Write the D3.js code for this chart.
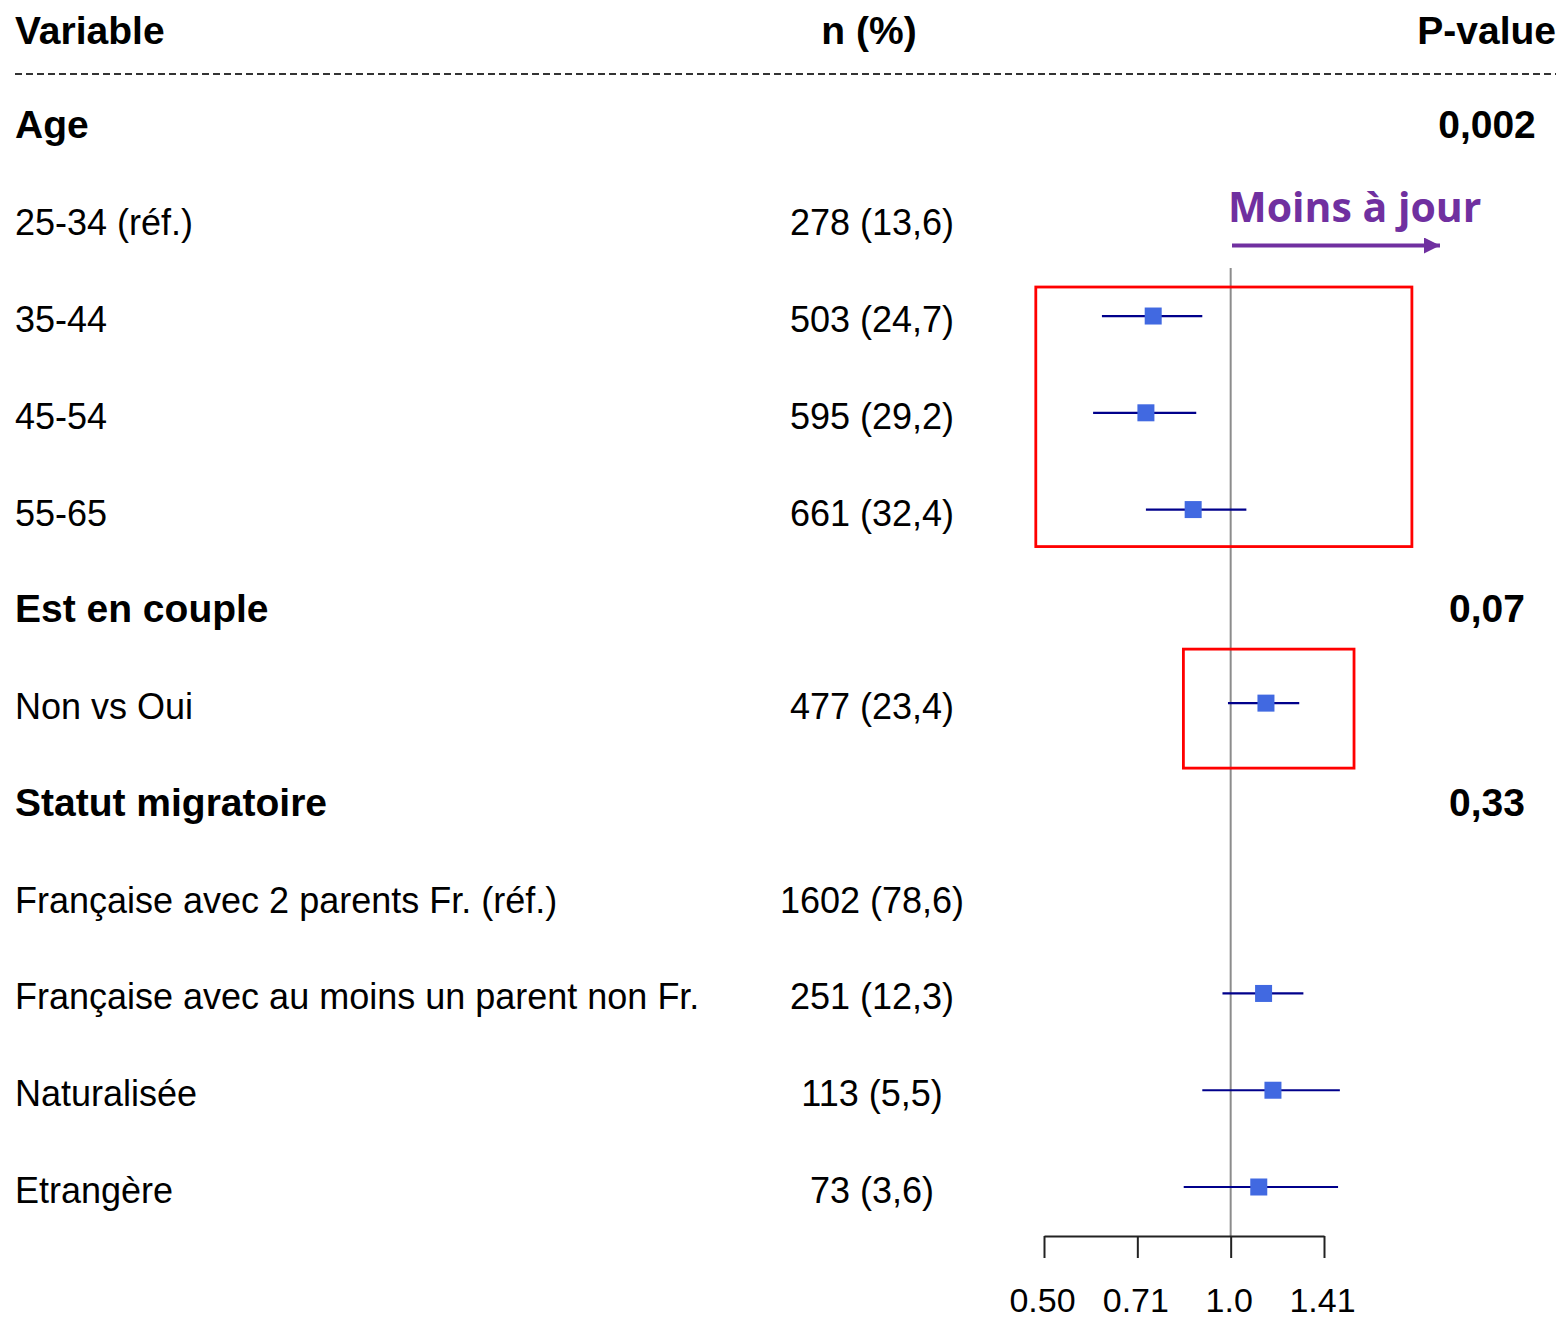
<!DOCTYPE html>
<html>
<head>
<meta charset="utf-8">
<script src="https://cdn.jsdelivr.net/npm/d3@7"></script>
<style>
  html, body { margin: 0; padding: 0; background: #fff; }
  svg { display: block; }
</style>
</head>
<body>
<script>
// ---- Data ----
const rowLabels = ["Age", "25-34 (réf.)", "35-44", "45-54", "55-65",
  "Est en couple", "Non vs Oui", "Statut migratoire",
  "Française avec 2 parents Fr. (réf.)", "Française avec au moins un parent non Fr.",
  "Naturalisée", "Etrangère"];
const rowIsGroup = [true, false, false, false, false, true, false, true, false, false, false, false];
const nPct = ["", "278 (13,6)", "503 (24,7)", "595 (29,2)", "661 (32,4)",
  "", "477 (23,4)", "", "1602 (78,6)", "251 (12,3)", "113 (5,5)", "73 (3,6)"];
const pValues = ["0,002", "", "", "", "", "0,07", "", "0,33", "", "", "", ""];
const orEst = [null, null, 0.75, 0.73, 0.87, null, 1.14, null, null, 1.13, 1.17, 1.11];
const orLow = [null, null, 0.62, 0.60, 0.73, null, 0.99, null, null, 0.97, 0.90, 0.84];
const orHigh = [null, null, 0.90, 0.88, 1.06, null, 1.29, null, null, 1.31, 1.50, 1.49];
const tickValues = [0.5, 0.7071, 1.0, 1.4142];
const tickLabels = ["0.50", "0.71", "1.0", "1.41"];
const headers = ["Variable", "n (%)", "P-value"];
const annotationText = "Moins à jour";

// ---- Layout ----
const W = 1562, H = 1320;
const svg = d3.select("body").append("svg").attr("width", W).attr("height", H);
const FONT = "'Liberation Sans', Arial, Helvetica, sans-serif";

const y = d3.scaleLinear().domain([0, 12]).range([25.7, 1187]); // row 0 = header
const x = d3.scaleLog().base(2).domain([0.5, 1.4142]).range([1044, 1324]);

const colLabelX = 15, colNX = 872, colPX = 1487;
const fsReg = 36, fsBold = 39;

// Header
svg.append("text").attr("x", colLabelX).attr("y", y(0) + 18)
  .attr("font-family", FONT).attr("font-weight", "bold").attr("font-size", fsBold)
  .text(headers[0]);
svg.append("text").attr("x", colNX - 3).attr("y", y(0) + 18).attr("text-anchor", "middle")
  .attr("font-family", FONT).attr("font-weight", "bold").attr("font-size", fsBold)
  .text(headers[1]);
svg.append("text").attr("x", 1556).attr("y", y(0) + 18).attr("text-anchor", "end")
  .attr("font-family", FONT).attr("font-weight", "bold").attr("font-size", fsBold)
  .text(headers[2]);

// dashed line under header
svg.append("line").attr("x1", 15).attr("x2", 1556).attr("y1", 74).attr("y2", 74)
  .attr("stroke", "#333").attr("stroke-width", 2).attr("stroke-dasharray", "7,4");

const rows = rowLabels.map((lab, i) => ({
  i, row: i + 1, label: lab, group: rowIsGroup[i], n: nPct[i], p: pValues[i],
  est: orEst[i], lo: orLow[i], hi: orHigh[i]
}));

// label column
svg.append("g").selectAll("text").data(rows).join("text")
  .attr("x", colLabelX)
  .attr("y", d => y(d.row) + 16)
  .attr("font-family", FONT)
  .attr("font-weight", d => d.group ? "bold" : "normal")
  .attr("font-size", d => d.group ? fsBold : fsReg)
  .attr("fill", "#000")
  .text(d => d.label);

// n (%) column
svg.append("g").selectAll("text").data(rows.filter(d => d.n)).join("text")
  .attr("x", colNX).attr("y", d => y(d.row) + 16)
  .attr("text-anchor", "middle")
  .attr("font-family", FONT).attr("font-size", fsReg)
  .text(d => d.n);

// p-value column
svg.append("g").selectAll("text").data(rows.filter(d => d.p)).join("text")
  .attr("x", colPX).attr("y", d => y(d.row) + 16)
  .attr("text-anchor", "middle")
  .attr("font-family", FONT).attr("font-weight", "bold").attr("font-size", fsBold)
  .text(d => d.p);

// reference line at OR = 1
const axisY = 1236;
svg.append("line").attr("x1", x(1)).attr("x2", x(1)).attr("y1", 268).attr("y2", axisY)
  .attr("stroke", "#8c8c8c").attr("stroke-width", 2);

// axis
const axisG = svg.append("g").attr("transform", `translate(0,${axisY})`)
  .call(d3.axisBottom(x).tickValues(tickValues).tickFormat((d, i) => tickLabels[i])
    .tickSize(22).tickSizeOuter(0).tickPadding(30));
axisG.select(".domain").attr("stroke", "#222").attr("stroke-width", 2);
axisG.selectAll(".tick line").attr("stroke", "#222").attr("stroke-width", 2);
axisG.selectAll(".tick text").attr("font-family", FONT).attr("font-size", 34)
  .attr("fill", "#000").attr("dx", -2);

// CI lines and squares
const pts = rows.filter(d => d.est != null);
svg.append("g").selectAll("line").data(pts).join("line")
  .attr("x1", d => x(d.lo)).attr("x2", d => x(d.hi))
  .attr("y1", d => y(d.row)).attr("y2", d => y(d.row))
  .attr("stroke", "#00008B").attr("stroke-width", 2.2);
const sq = 17;
svg.append("g").selectAll("rect").data(pts).join("rect")
  .attr("x", d => x(d.est) - sq / 2).attr("y", d => y(d.row) - sq / 2)
  .attr("width", sq).attr("height", sq)
  .attr("fill", "#4169E1");

// highlight boxes (annotations)
const boxes = [
  { rowFrom: 3, rowTo: 5, orLo: 0.485, orHi: 1.96, padTop: 29, padBot: 37 },
  { rowFrom: 7, rowTo: 7, orLo: 0.839, orHi: 1.581, padTop: 54, padBot: 65 }
];
svg.append("g").selectAll("rect").data(boxes).join("rect")
  .attr("x", d => x(d.orLo)).attr("y", d => y(d.rowFrom) - d.padTop)
  .attr("width", d => x(d.orHi) - x(d.orLo))
  .attr("height", d => y(d.rowTo) + d.padBot - (y(d.rowFrom) - d.padTop))
  .attr("fill", "none").attr("stroke", "#FF0000").attr("stroke-width", 2.8);

// "Moins à jour" annotation
const purple = "#7030A0";
svg.append("text").attr("x", 1228).attr("y", 222)
  .attr("font-family", "'Open Sans', Lato, sans-serif").attr("font-weight", "bold")
  .attr("font-size", 41).attr("fill", purple)
  .text(annotationText);
const defs = svg.append("defs");
defs.append("marker").attr("id", "arrowhead")
  .attr("viewBox", "0 0 10 10").attr("refX", 10).attr("refY", 5)
  .attr("markerUnits", "userSpaceOnUse")
  .attr("markerWidth", 17).attr("markerHeight", 16).attr("orient", "auto")
  .append("path").attr("d", "M0,0 L10,5 L0,10 Z").attr("fill", purple);
svg.append("line").attr("x1", 1232).attr("x2", 1440).attr("y1", 245.5).attr("y2", 245.5)
  .attr("stroke", purple).attr("stroke-width", 4)
  .attr("marker-end", "url(#arrowhead)");
</script>
</body>
</html>
